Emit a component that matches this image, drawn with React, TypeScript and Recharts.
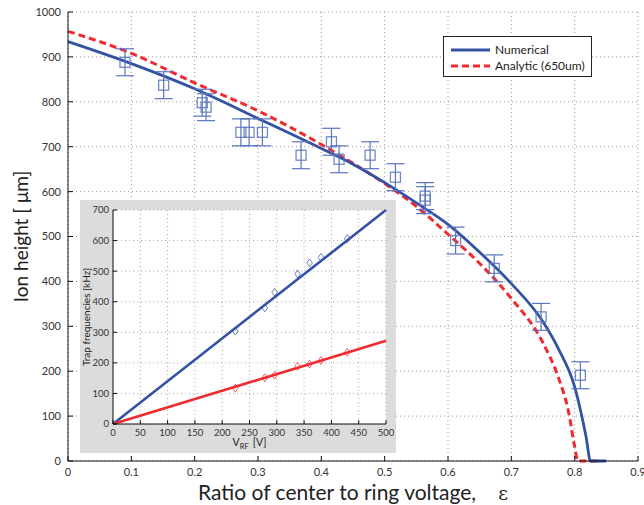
import React from "react";
import {
  ComposedChart,
  Line,
  Scatter,
  XAxis,
  YAxis,
  CartesianGrid,
  ErrorBar,
  Label,
} from "recharts";

// main plot: ion height vs epsilon
const numericalX = [0, 0.1, 0.2, 0.3, 0.4, 0.45, 0.5, 0.55, 0.6, 0.65, 0.7, 0.75, 0.775, 0.8, 0.81, 0.818, 0.825, 0.85];
const numericalY = [934, 885, 829, 763, 696, 661, 620, 575, 527, 465, 395, 310, 248, 165, 108, 54, 0, 0];

const analyticX = [0, 0.1, 0.2, 0.3, 0.4, 0.45, 0.5, 0.55, 0.6, 0.65, 0.7, 0.75, 0.775, 0.79, 0.8, 0.805, 0.836];
const analyticY = [957, 908, 842, 780, 705, 663, 618, 567, 505, 440, 362, 263, 183, 112, 32, 0, 0];

const measuredX = [0.09, 0.151, 0.212, 0.218, 0.273, 0.286, 0.307, 0.368, 0.416, 0.428, 0.477, 0.517, 0.564, 0.564, 0.612, 0.673, 0.747, 0.809];
const measuredY = [888, 837, 798, 788, 732, 732, 732, 681, 711, 672, 681, 632, 590, 581, 491, 429, 321, 191];
const measuredErr = [30, 30, 30, 30, 30, 30, 30, 30, 30, 30, 30, 30, 30, 30, 30, 30, 30, 30];

const xTicks = [0, 0.1, 0.2, 0.3, 0.4, 0.5, 0.6, 0.7, 0.8, 0.9];
const yTicks = [0, 100, 200, 300, 400, 500, 600, 700, 800, 900, 1000];

// inset: trap frequencies vs V_RF
const vrf = [224, 278, 296, 338, 360, 381, 429];
const radialFreq = [304, 380, 431, 491, 527, 545, 606];
const axialFreq = [117, 151, 160, 189, 196, 208, 235];
const fitX = [0, 500];
const radialFitY = [0, 700];
const axialFitY = [0, 272];

const insetXTicks = [0, 50, 100, 150, 200, 250, 300, 350, 400, 450, 500];
const insetYTicks = [0, 100, 200, 300, 400, 500, 600, 700];

const BLUE = "#3352a3";
const MARK = "#5a74bd";
const RED = "#f02a2e";
const FONT = "Lato, 'Open Sans', sans-serif";

const zip = (xs: number[], ys: number[]) => xs.map((x, i) => ({ x, y: ys[i] }));

const numerical = zip(numericalX, numericalY);
const analytic = zip(analyticX, analyticY);
const measured = measuredX.map((x, i) => ({ x, y: measuredY[i], err: measuredErr[i] }));
const radialPts = zip(vrf, radialFreq);
const axialPts = zip(vrf, axialFreq);
const radialFit = zip(fitX, radialFitY);
const axialFit = zip(fitX, axialFitY);

const Square = (p: any) => (
  <rect x={p.cx - 5} y={p.cy - 5} width={10} height={10} fill="none" stroke={MARK} strokeWidth={1.3} strokeOpacity={0.85} />
);

const diamond = (color: string) => (p: any) => (
  <path
    d={`M${p.cx},${p.cy - 4} L${p.cx + 2.8},${p.cy} L${p.cx},${p.cy + 4} L${p.cx - 2.8},${p.cy} Z`}
    fill="none"
    stroke={color}
    strokeWidth={0.9}
    strokeOpacity={0.8}
  />
);

const tickStyle = { fontSize: 11, fill: "#333", fontFamily: FONT };
const insetTick = { fontSize: 9.5, fill: "#333", fontFamily: FONT };

function MainYTitle({ viewBox }: any) {
  const x = viewBox.x + 12;
  const y = viewBox.y + viewBox.height / 2;
  return (
    <text x={x} y={y} transform={`rotate(-90 ${x} ${y})`} textAnchor="middle" dominantBaseline="central"
      fontSize={19} fill="#222" fontFamily={FONT}>
      Ion height [ μm]
    </text>
  );
}

function MainXTitle({ viewBox }: any) {
  const x = viewBox.x + viewBox.width / 2;
  const y = viewBox.y + 39;
  return (
    <text x={x} y={y} textAnchor="middle" fontSize={21} fill="#222" fontFamily={FONT}>
      Ratio of center to ring voltage,
      <tspan dx={22} fontFamily="'DejaVu Serif', serif" fontSize={19}>ε</tspan>
    </text>
  );
}

function InsetYTitle({ viewBox }: any) {
  const x = 6;
  const y = viewBox.y + viewBox.height / 2;
  return (
    <text x={x} y={y} transform={`rotate(-90 ${x} ${y})`} textAnchor="middle" dominantBaseline="central"
      fontSize={10} fill="#222" fontFamily={FONT}>
      Trap frequencies [kHz]
    </text>
  );
}

function InsetXTitle({ viewBox }: any) {
  const x = viewBox.x + viewBox.width / 2;
  const y = viewBox.y + 22;
  return (
    <text x={x} y={y} textAnchor="middle" fontSize={10.5} fill="#222" fontFamily={FONT}>
      V<tspan fontSize={7.5} dy={3}>RF</tspan><tspan dy={-3} dx={4}>[V]</tspan>
    </text>
  );
}

function Inset() {
  return (
    <div style={{ position: "absolute", left: 80, top: 200, width: 316, height: 253, background: "#dcdcdc" }}>
      <ComposedChart width={316} height={253} margin={{ top: 10, right: 10, left: 0, bottom: 0 }}>
        <CartesianGrid stroke="#aaa" strokeDasharray="1 3" fill="#fff" />
        <XAxis type="number" dataKey="x" domain={[0, 500]} ticks={insetXTicks} height={29}
          tick={insetTick} tickSize={-4} tickMargin={9} stroke="#111" interval={0}>
          <Label content={<InsetXTitle />} />
        </XAxis>
        <YAxis type="number" dataKey="y" domain={[0, 700]} ticks={insetYTicks} width={33}
          tick={insetTick} tickSize={-4} tickMargin={8} stroke="#111" interval={0}>
          <Label content={<InsetYTitle />} />
        </YAxis>
        <XAxis xAxisId="top" orientation="top" type="number" domain={[0, 500]} ticks={insetXTicks}
          height={0} tick={false} tickSize={4} stroke="#111" />
        <YAxis yAxisId="right" orientation="right" type="number" domain={[0, 700]} ticks={insetYTicks}
          width={0} tick={false} tickSize={4} stroke="#111" />
        <Line data={radialFit} dataKey="y" type="linear" stroke={BLUE} strokeWidth={2.6} dot={false} isAnimationActive={false} />
        <Line data={axialFit} dataKey="y" type="linear" stroke={RED} strokeWidth={2.6} dot={false} isAnimationActive={false} />
        <Scatter data={radialPts} dataKey="y" shape={diamond(BLUE)} isAnimationActive={false} />
        <Scatter data={axialPts} dataKey="y" shape={diamond(RED)} isAnimationActive={false} />
      </ComposedChart>
    </div>
  );
}

function LegendBox() {
  return (
    <div style={{
      position: "absolute", left: 443, top: 36, width: 147, height: 39, border: "1px solid #222",
      background: "#fff", fontFamily: FONT, fontSize: 12, color: "#222",
    }}>
      <div style={{ position: "absolute", left: 7, top: 5, display: "flex", alignItems: "center" }}>
        <svg width={40} height={8}><line x1={0} y1={4} x2={39} y2={4} stroke={BLUE} strokeWidth={3} /></svg>
        <span style={{ marginLeft: 4 }}>Numerical</span>
      </div>
      <div style={{ position: "absolute", left: 7, top: 21, display: "flex", alignItems: "center" }}>
        <svg width={40} height={8}><line x1={0} y1={4} x2={39} y2={4} stroke={RED} strokeWidth={3} strokeDasharray="7 4" /></svg>
        <span style={{ marginLeft: 4 }}>Analytic (650um)</span>
      </div>
    </div>
  );
}

export default function App() {
  return (
    <div style={{ position: "absolute", left: 0, top: 0, width: 644, height: 505, background: "#fff" }}>
      <ComposedChart width={644} height={505} margin={{ top: 12, right: 6, left: 8, bottom: 14 }}>
        <CartesianGrid stroke="#999" strokeDasharray="1 3" />
        <XAxis type="number" dataKey="x" domain={[0, 0.9]} ticks={xTicks} height={30}
          tick={tickStyle} tickSize={-5} tickMargin={12} stroke="#111" interval={0}>
          <Label content={<MainXTitle />} />
        </XAxis>
        <YAxis type="number" dataKey="y" domain={[0, 1000]} ticks={yTicks} width={60}
          tick={tickStyle} tickSize={-5} tickMargin={12} stroke="#111" interval={0}>
          <Label content={<MainYTitle />} />
        </YAxis>
        <XAxis xAxisId="top" orientation="top" type="number" domain={[0, 0.9]} ticks={xTicks}
          height={0} tick={false} tickSize={5} stroke="#111" />
        <YAxis yAxisId="right" orientation="right" type="number" domain={[0, 1000]} ticks={yTicks}
          width={0} tick={false} tickSize={5} stroke="#111" />
        <Line data={analytic} dataKey="y" type="monotone" stroke={RED} strokeWidth={3}
          strokeDasharray="7 4" dot={false} isAnimationActive={false} />
        <Line data={numerical} dataKey="y" type="monotone" stroke={BLUE} strokeWidth={2.8}
          dot={false} isAnimationActive={false} />
        <Scatter data={measured} dataKey="y" shape={Square} isAnimationActive={false}>
          <ErrorBar dataKey="err" direction="y" width={9} stroke={MARK} strokeWidth={1.2} />
        </Scatter>
      </ComposedChart>
      <Inset />
      <LegendBox />
    </div>
  );
}
